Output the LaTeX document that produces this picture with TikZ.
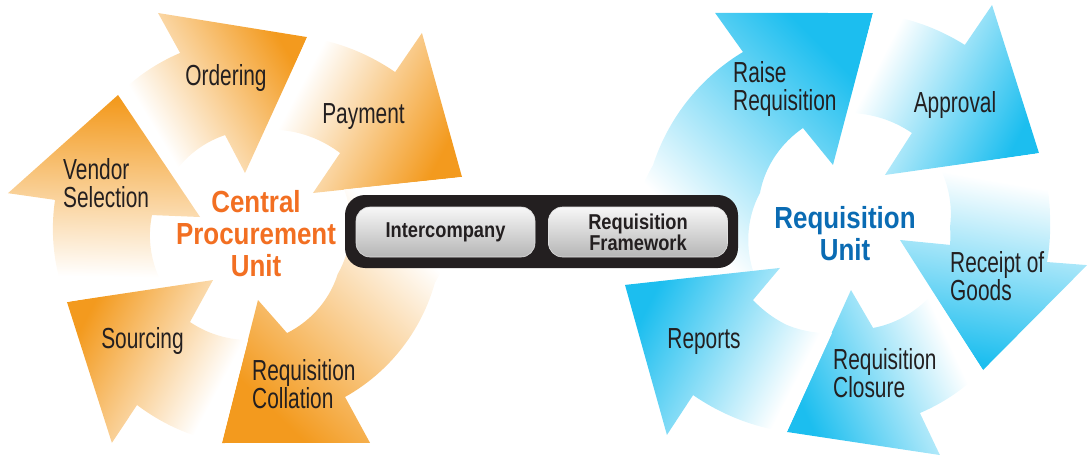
\documentclass[tikz,border=0pt]{standalone}
\usepackage{fontspec}
\setmainfont{Liberation Sans}
\newfontfamily\lblfont{Liberation Sans}[FakeStretch=0.72]
\newfontfamily\bldfont{Liberation Sans}[FakeStretch=0.85]
\definecolor{orgD}{HTML}{F39A1E}
\definecolor{bluD}{HTML}{1CBEEF}
\definecolor{txtOrg}{HTML}{F26F22}
\definecolor{txtBlu}{HTML}{0A6BB3}
\definecolor{boxBlk}{HTML}{231F20}
\definecolor{lblc}{HTML}{231F20}
\pgfdeclareverticalshading{oshade}{100bp}{color(0bp)=(white); color(31bp)=(white); color(74bp)=(orgD); color(100bp)=(orgD)}
\pgfdeclareverticalshading{bshade}{100bp}{color(0bp)=(white); color(31bp)=(white); color(74bp)=(bluD); color(100bp)=(bluD)}
\tikzset{
  sarc/.style args={#1/#2/#3/#4}{insert path={-- plot[domain=#1:#2,samples=30,variable=\q] (\q:{#3+((#4)-(#3))*(\q-(#1))/((#2)-(#1))})}},
  oarr/.style={shade, shading=oshade, shading angle=#1},
  barr/.style={shade, shading=bshade, shading angle=#1},
  lbl/.style={font={\lblfont\fontsize{29}{28}\selectfont}, text=lblc, inner sep=0pt, align=left},
  ctr/.style={font={\bldfont\bfseries\fontsize{30.5}{32}\selectfont}, inner sep=0pt, align=center},
  frame/.style={fill=boxBlk, rounded corners=20pt, minimum width=393pt, minimum height=73pt, inner sep=0pt},
  gbox/.style={rounded corners=14pt, minimum width=179pt, minimum height=50pt, top color=gray!6, bottom color=gray!58, draw=gray!25, line width=0.6pt, inner sep=0pt, align=center, text=lblc, font={\bldfont\bfseries\fontsize{21.5}{19.5}\selectfont}}
}
\begin{document}
\begin{tikzpicture}[x=1pt,y=-1pt]
\useasboundingbox (0,0) rectangle (1088,455);
% left cycle
\begin{scope}[shift={(250,235)}]
\path[oarr=-59] (226.7:192.4) [sarc=226.7/249.0/192.4/195] -- (247.5:240.3) -- (286.1:206) -- (265.4:62.2) -- (256.0:103) [sarc=256.0/217.9/103/97.6] -- cycle;
\path[oarr=-118] (286.1:206) [sarc=286.1/311.7/206/218.2] -- (310.4:265.3) -- (344.7:219.8) -- (326.3:75.7) -- (317.7:121.8) [sarc=317.7/279.2/121.8/106.4] -- cycle;
\path[oarr=136] (344.7:219.8) [sarc=344.7/374.5/219.8/191] [sarc=374.5/419.6/191/187.8] -- (420.0:240.1) -- (457.7:209.9) -- (443.0:65.5) -- (429.3:104.8) [sarc=429.3/384/104.8/96] [sarc=384/334.2/96/104.6] -- cycle;
\path[oarr=62] (97.7:209.9) [sarc=97.7/123.6/209.9/204.1] -- (123.6:249.6) -- (159.9:194.9) -- (129.4:58.3) -- (124.6:105.7) [sarc=124.6/91.1/105.7/105] -- cycle;
\path[oarr=-1] (159.9:194.9) [sarc=159.9/190.2/194.9/198.1] -- (189.8:245.6) -- (226.7:192.4) -- (199.8:53.1) -- (191.5:100) [sarc=191.5/150.1/100/100.3] -- cycle;
\end{scope}
% right cycle
\begin{scope}[shift={(850,228)}]
\path[barr=-45] (165.8:232.1) [sarc=165.8/197.7/232.1/206.8] [sarc=197.7/238.7/206.8/206] -- (237.9:253.9) -- (276.1:216.2) -- (254.9:65.3) -- (244.8:110.5) [sarc=244.8/201.3/110.5/96.6] [sarc=201.3/156.3/96.6/106] -- cycle;
\path[barr=-117] (276.1:216.2) [sarc=276.1/302.1/216.2/216.1] -- (302.5:264.4) -- (338.4:203.3) -- (303.4:63.5) -- (303.1:113.4) [sarc=303.1/269.0/113.4/115] -- cycle;
\path[barr=170] (338.4:203.3) [sarc=338.4/357.7/203.3/200.2] [sarc=357.7/369.8/200.2/199.9] -- (368.9:239.9) -- (406.9:194.6) -- (373.5:51.4) -- (369.6:101.4) [sarc=369.6/359.4/101.4/100] [sarc=359.4/326.3/100/108.2] -- cycle;
\path[barr=115] (46.9:194.6) [sarc=46.9/69.3/194.6/197.8] -- (68.4:244.2) -- (107.2:213.5) -- (89.1:62) -- (77.0:102.6) [sarc=77.0/38.1/102.6/105.4] -- cycle;
\path[barr=63] (107.2:213.5) [sarc=107.2/133.2/213.5/229.2] -- (131.5:276.3) -- (165.8:232.1) -- (150.3:80.6) -- (143.4:120.8) [sarc=143.4/123.0/120.8/115.7] [sarc=123.0/99.7/115.7/106.5] -- cycle;
\end{scope}
% central frame
\node[frame] (fr) at (541.5,231.5) {};
\node[gbox] (ic) at (445.5,232) {Intercompany};
\node[gbox] (rf) at (638,232) {Requisition\\Framework};
% labels left
\node[lbl] (ord) at (226,78.5) {Ordering};
\node[lbl] (pay) at (363.5,116.5) {Payment};
\node[lbl, anchor=west] (ven) at (63,183) {Vendor\\Selection};
\node[lbl] (src) at (142.5,340.5) {Sourcing};
\node[lbl, anchor=west] (col) at (252,384) {Requisition\\Collation};
\node[ctr, text=txtOrg] (cpu) at (256,233.5) {Central\\Procurement\\Unit};
% labels right
\node[lbl, anchor=west] (rai) at (733,89) {Raise\\Requisition};
\node[lbl] (app) at (955,105) {Approval};
\node[lbl, anchor=west] (rec) at (950,276) {Receipt of\\Goods};
\node[lbl, anchor=west] (clo) at (833,373) {Requisition\\Closure};
\node[lbl] (rep) at (704,342) {Reports};
\node[ctr, text=txtBlu] (ru) at (845,234) {Requisition\\Unit};
\end{tikzpicture}
\end{document}
